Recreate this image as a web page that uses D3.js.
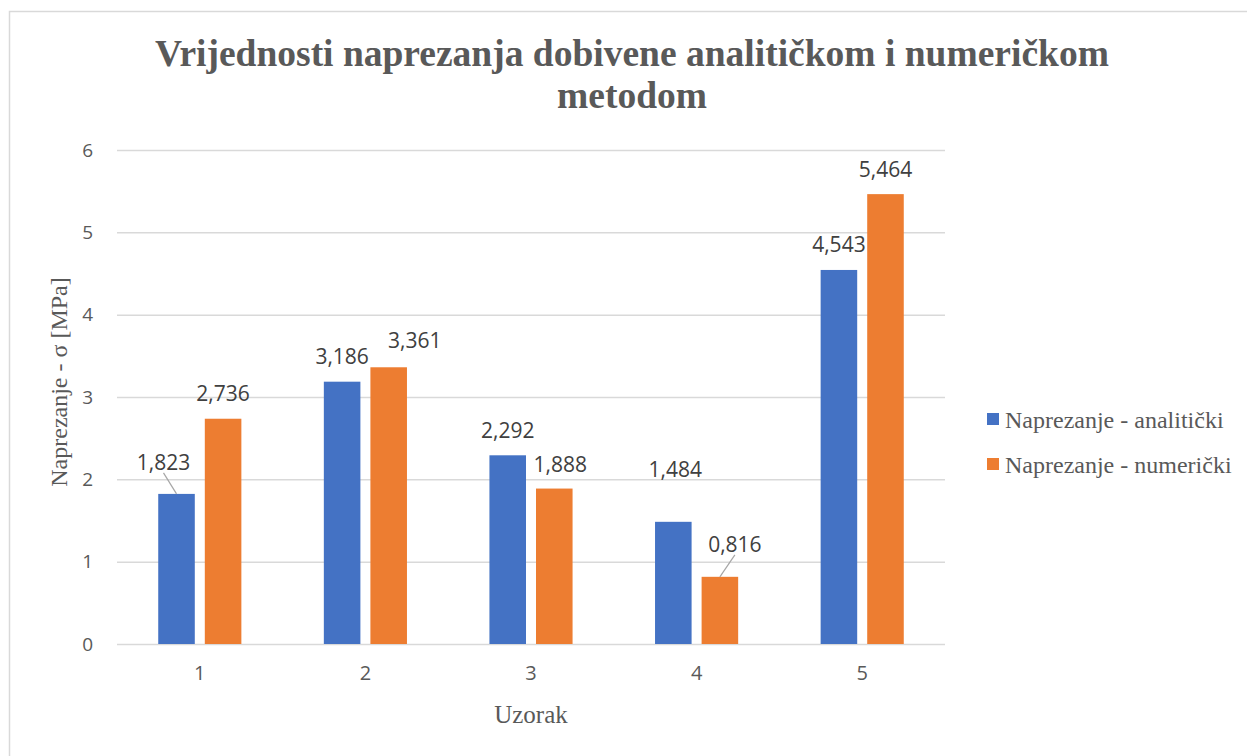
<!DOCTYPE html>
<html>
<head>
<meta charset="utf-8">
<script src="https://cdn.jsdelivr.net/npm/d3@7"></script>
<style>
  html, body { margin: 0; padding: 0; background: #ffffff; }
  svg { display: block; }
</style>
</head>
<body>
<svg id="chart" width="1247" height="756"></svg>
<script>
// Stress values per specimen, analytical vs numerical method
const categories = ["1", "2", "3", "4", "5"];
const seriesNames = ["Naprezanje - analitički", "Naprezanje - numerički"];
const analitickiValues = [1.823, 3.186, 2.292, 1.484, 4.543];
const numerickiValues = [2.736, 3.361, 1.888, 0.816, 5.464];
const yTicks = [0, 1, 2, 3, 4, 5, 6];
const seriesColors = ["#4472C4", "#ED7D31"];

const titleLines = ["Vrijednosti naprezanja dobivene analitičkom i numeričkom", "metodom"];
const yAxisTitle = "Naprezanje - σ [MPa]";
const xAxisTitle = "Uzorak";

const seriesValues = [analitickiValues, numerickiValues];

// Hand-placed label nudges (dx, dy) and leader-line flags, per series/category
const labelNudges = [
  [[-13, -6, true], [0, 0, false], [0, 0, false], [2, -27, false], [0, 0, false]],
  [[0, 0, false], [26, -2, false], [6, 1, false], [15, -7, true], [0, 0, false]]
];

const svg = d3.select("#chart");
const grey = "#595959";

// Outer chart frame
svg.append("rect")
  .attr("x", 9.5).attr("y", 11.5)
  .attr("width", 1260).attr("height", 780)
  .attr("fill", "none").attr("stroke", "#d9d9d9").attr("stroke-width", 1.5);

// Plot area
const plot = { left: 117, right: 945, top: 150, bottom: 644 };

const y = d3.scaleLinear().domain([0, 6]).range([plot.bottom, plot.top]);
const x0 = d3.scaleBand().domain(categories).range([plot.left, plot.right])
  .paddingInner(0.498).paddingOuter(0.249);
const x1 = d3.scaleBand().domain(seriesNames).range([0, x0.bandwidth()])
  .paddingInner(0.215).paddingOuter(0);

// Title
svg.append("g").selectAll("text").data(titleLines).join("text")
  .attr("x", 632).attr("y", (d, i) => 66 + i * 42)
  .attr("text-anchor", "middle")
  .attr("font-family", "'Liberation Serif', 'Times New Roman', serif")
  .attr("font-weight", "bold").attr("font-size", 37.5)
  .attr("fill", grey)
  .text(d => d);

// Gridlines and y tick labels
const yAxis = d3.axisLeft(y).tickValues(yTicks).tickSize(-(plot.right - plot.left)).tickPadding(24)
  .tickFormat(d3.format("d"));
const gy = svg.append("g").attr("transform", `translate(${plot.left},0)`).call(yAxis);
gy.select(".domain").remove();
gy.selectAll(".tick line").attr("stroke", "#d9d9d9").attr("stroke-width", 1.5);
gy.selectAll(".tick text")
  .attr("font-family", "'Open Sans', sans-serif").attr("font-size", 19)
  .attr("fill", grey);

// X tick labels
const xAxis = d3.axisBottom(x0).tickSize(0).tickPadding(22);
const gx = svg.append("g").attr("transform", `translate(0,${plot.bottom})`).call(xAxis);
gx.select(".domain").remove();
gx.selectAll(".tick text")
  .attr("font-family", "'Open Sans', sans-serif").attr("font-size", 20)
  .attr("fill", grey);

// Bars
const rows = categories.map((c, ci) => ({
  cat: c,
  items: seriesNames.map((s, si) => ({ s, si, ci, v: seriesValues[si][ci] }))
}));

const groups = svg.append("g").selectAll("g").data(rows).join("g")
  .attr("transform", d => `translate(${x0(d.cat)},0)`);

groups.selectAll("rect").data(d => d.items).join("rect")
  .attr("x", d => x1(d.s))
  .attr("y", d => y(d.v))
  .attr("width", x1.bandwidth())
  .attr("height", d => y(0) - y(d.v))
  .attr("fill", d => seriesColors[d.si]);

// Data labels with optional leader lines
const fmt = v => d3.format(".3f")(v).replace(".", ",");
groups.each(function(row) {
  const g = d3.select(this);
  row.items.forEach(d => {
    const [dx, dy, leader] = labelNudges[d.si][d.ci];
    const cx = x1(d.s) + x1.bandwidth() / 2;
    const top = y(d.v);
    const lx = cx + dx;
    const ly = top - 25 + dy; // vertical centre of label
    if (leader) {
      g.append("line")
        .attr("x1", lx).attr("y1", ly + 10)
        .attr("x2", cx).attr("y2", top)
        .attr("stroke", "#a6a6a6").attr("stroke-width", 1.2);
    }
    g.append("text")
      .attr("x", lx).attr("y", ly + 7.5)
      .attr("text-anchor", "middle")
      .attr("font-family", "'Open Sans', sans-serif").attr("font-size", 21)
      .attr("fill", "#404040")
      .text(fmt(d.v));
  });
});

// Axis titles
svg.append("text")
  .attr("transform", "translate(67,382) rotate(-90)")
  .attr("text-anchor", "middle")
  .attr("font-family", "'Liberation Serif', 'Times New Roman', serif")
  .attr("font-size", 24).attr("fill", grey)
  .text(yAxisTitle);

svg.append("text")
  .attr("x", 531).attr("y", 723)
  .attr("text-anchor", "middle")
  .attr("font-family", "'Liberation Serif', 'Times New Roman', serif")
  .attr("font-size", 25).attr("fill", grey)
  .text(xAxisTitle);

// Legend
const legend = svg.append("g").selectAll("g").data(seriesNames).join("g")
  .attr("transform", (d, i) => `translate(987,${413 + i * 45})`);
legend.append("rect")
  .attr("width", 12).attr("height", 12)
  .attr("fill", (d, i) => seriesColors[i]);
legend.append("text")
  .attr("x", 18).attr("y", 15)
  .attr("font-family", "'Liberation Serif', 'Times New Roman', serif")
  .attr("font-size", 24).attr("fill", grey)
  .text(d => d);
</script>
</body>
</html>
